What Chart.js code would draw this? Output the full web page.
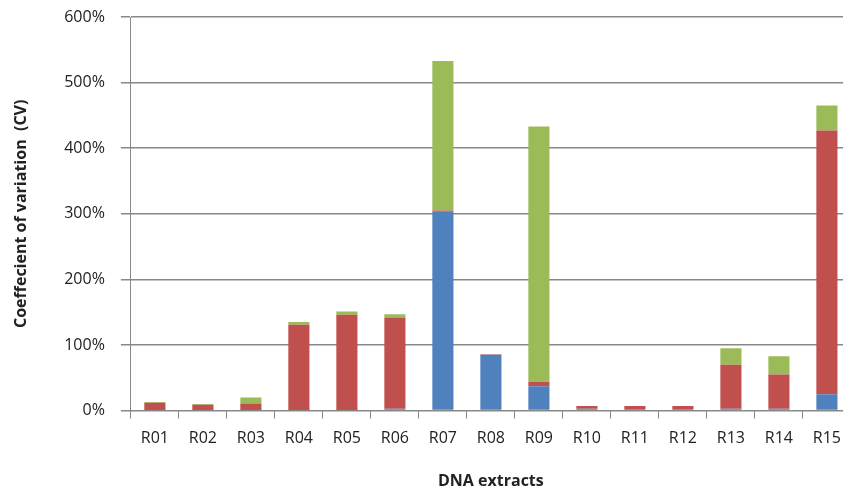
<!DOCTYPE html>
<html>
<head>
<meta charset="utf-8">
<script src="https://cdn.jsdelivr.net/npm/chart.js@4"></script>
<style>
  html, body { margin: 0; padding: 0; background: #fff; overflow: hidden; }
  #wrap { width: 851px; height: 495px; }
</style>
</head>
<body>
<div id="wrap"><canvas id="chartCV" width="851" height="495"></canvas></div>
<script>
const categories = ["R01", "R02", "R03", "R04", "R05", "R06", "R07", "R08", "R09", "R10", "R11", "R12", "R13", "R14", "R15"];
const blueValues  = [1, 1, 1, 1, 1, 3, 303, 85, 37, 3, 0, 0, 3, 3, 25];
const redValues   = [11, 8, 10, 130, 145, 139, 2, 1, 7, 4, 7, 7, 67, 52, 402];
const greenValues = [1, 1, 9, 4, 5, 5, 228, 0, 389, 0, 0, 0, 25, 28, 38];
const yTicks = [0, 100, 200, 300, 400, 500, 600];

document.addEventListener("DOMContentLoaded", () => {
  const ctx = document.getElementById("chartCV");
  const font = "'Open Sans', 'DejaVu Sans', sans-serif";

  new Chart(ctx, {
    type: "bar",
    data: {
      labels: categories,
      datasets: [
        { data: blueValues, backgroundColor: "#4F81BD" },
        { data: redValues, backgroundColor: "#C0504D" },
        { data: greenValues, backgroundColor: "#9BBB59" }
      ]
    },
    options: {
      responsive: false,
      animation: false,
      layout: { padding: { top: 0, left: 12, right: 0, bottom: 0 } },
      datasets: { bar: { categoryPercentage: 1, barPercentage: 0.44 } },
      plugins: { legend: { display: false }, tooltip: { enabled: false } },
      scales: {
        x: {
          stacked: true,
          grid: { drawOnChartArea: false, color: "#888", tickLength: 8 },
          border: { color: "#888" },
          ticks: { color: "#222", font: { family: font, size: 16 }, maxRotation: 0, padding: 10 },
          title: { display: true, text: "DNA extracts", color: "#222", font: { family: font, size: 16, weight: "bold" }, padding: { top: 14 } }
        },
        y: {
          stacked: true,
          min: 0,
          max: 600,
          afterBuildTicks: axis => { axis.ticks = yTicks.map(v => ({ value: v })); },
          // keep the wide label gap from pushing the plot top down
          afterFit: axis => { axis.paddingTop = 17; },
          grid: { color: "#888", lineWidth: 1.5, tickLength: 10 },
          border: { color: "#888" },
          ticks: { color: "#222", font: { family: font, size: 16 }, callback: v => v + "%", padding: 16 },
          title: { display: true, text: "Coeffecient of variation  (CV)", color: "#222", font: { family: font, size: 16, weight: "bold" }, padding: { top: 0, bottom: 17 } }
        }
      }
    }
  });
});
</script>
</body>
</html>
